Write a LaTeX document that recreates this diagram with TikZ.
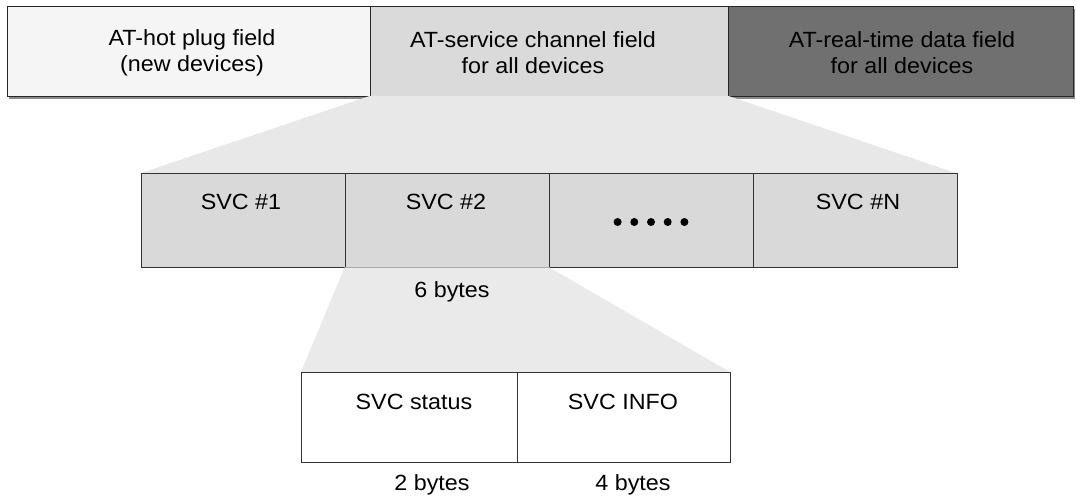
\documentclass[tikz,border=0pt]{standalone}
\usepackage{fontspec}
\usetikzlibrary{calc}
\setmainfont{Liberation Sans}[FakeStretch=1.06]
\definecolor{hotfill}{HTML}{F5F5F5}
\definecolor{svcfill}{HTML}{DADADA}
\definecolor{rtfill}{HTML}{707070}
\definecolor{trapA}{HTML}{E8E8E8}
\definecolor{trapB}{HTML}{EAEAEA}
\definecolor{cellfill}{HTML}{D9D9D9}
\definecolor{shadowc}{HTML}{8A8A8A}
\begin{document}
\begin{tikzpicture}[x=1pt,y=-1pt,
  every node/.style={font=\fontsize{22}{26}\selectfont},
  fieldbox/.style={draw=black!85,line width=1pt,inner sep=0pt,minimum height=90pt},
  cellbox/.style={draw=black!80,line width=0.9pt,inner sep=0pt,minimum height=94pt,minimum width=204pt,fill=cellfill},
  subbox/.style={draw=black!80,line width=0.9pt,inner sep=0pt,minimum height=90pt,fill=white},
  lbl/.style={inner sep=0pt,align=center},
  zoomfill/.style={draw=none}]
\useasboundingbox (0,0) rectangle (1077,497);
% shadow of top row
\fill[shadowc] (9,9) rectangle (1075,99.5);
% top row
\node[fieldbox,fill=hotfill,minimum width=363pt] (hot) at (188.5,52) {};
\node[fieldbox,fill=svcfill,minimum width=358pt] (svc) at (549,52) {};
\node[fieldbox,fill=rtfill,minimum width=345pt] (rt) at (900.5,52) {};
\node[lbl] (hott) at (192,53) {AT-hot plug field\\(new devices)};
\node[lbl] (svct) at (533,53) {AT-service channel field\\for all devices};
\node[lbl] (rtt) at (902,53) {AT-real-time data field\\for all devices};
% middle row
\coordinate (m1) at (141,173);
\coordinate (m2) at (956,173);
\fill[trapA] ([yshift=1.5pt]svc.south west) -- ([yshift=1.5pt]svc.south east) -- (m2) -- (m1) -- cycle;
\node[cellbox] (c1) at (243,220) {};
\node[cellbox] (c2) at (447,220) {};
\node[cellbox] (c3) at (651,220) {};
\node[cellbox] (c4) at (855,220) {};
\node[lbl] (c1t) at (241,202) {SVC \#1};
\node[lbl] (c2t) at (446,202) {SVC \#2};
\node[lbl] (c4t) at (858,202) {SVC \#N};
\foreach \i in {-2,...,2}
  \fill[black] ($(c3.center)+(\i*16.7,2)$) circle (4pt);
% bottom zoom
\fill[trapB] (c2.south west) -- (c2.south east) -- (730,372) -- (301,372) -- cycle;
\node[lbl] (six) at (452,292) {6 bytes};
\node[subbox,minimum width=216pt] (st) at (409,417) {};
\node[subbox,minimum width=213pt] (info) at (623.5,417) {};
\node[lbl] (stt) at (414,402) {SVC status};
\node[lbl] (infot) at (623,402) {SVC INFO};
\node[lbl] (two) at (432,485) {2 bytes};
\node[lbl] (four) at (633,485) {4 bytes};
\end{tikzpicture}
\end{document}
